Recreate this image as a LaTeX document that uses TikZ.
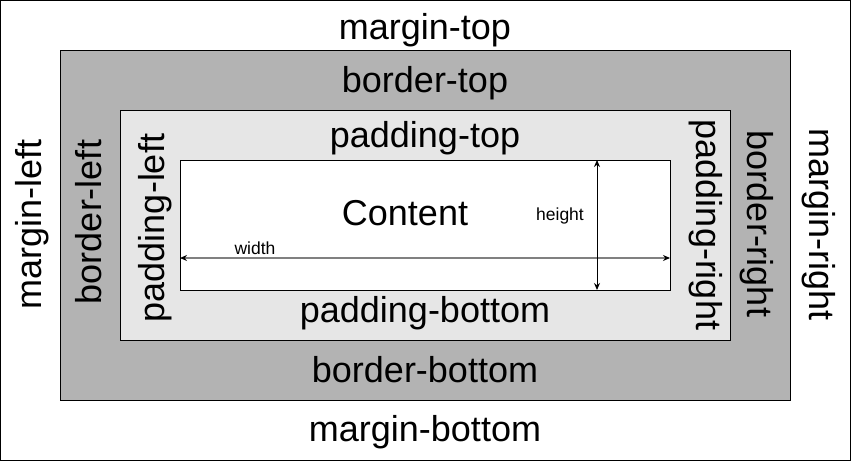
\documentclass[tikz,border=0pt]{standalone}
\usepackage{fontspec}
\setmainfont{Liberation Sans}
\usetikzlibrary{arrows.meta}

\definecolor{bordergray}{HTML}{B3B3B3}
\definecolor{paddinggray}{HTML}{E6E6E6}
\definecolor{widthgray}{HTML}{808080}

\tikzset{
  box/.style={draw=black, line width=1pt, inner sep=0pt, outer sep=0pt},
  biglabel/.style={font=\fontsize{36}{43}\selectfont, inner sep=0pt, text height=25.7pt, text depth=7.7pt},
  smalllabel/.style={font=\fontsize{17.5}{21}\selectfont, inner sep=0pt, text height=12.5pt, text depth=3.75pt},
  dimarrow/.style={{Stealth[length=7pt,width=6pt,black]}-{Stealth[length=7pt,width=6pt,black]}}
}

\begin{document}
\begin{tikzpicture}[x=1pt, y=-1pt]
  \useasboundingbox (0,0) rectangle (851,461);

  % nested boxes
  \node[box, fill=white, minimum width=850pt, minimum height=460pt] (margin) at (425.5,230.5) {};
  \node[box, fill=bordergray, minimum width=730pt, minimum height=350pt] (border) at (425,225) {};
  \node[box, fill=paddinggray, minimum width=610pt, minimum height=230pt] (padding) at (425,225) {};
  \node[box, fill=white, minimum width=490pt, minimum height=130pt] (content) at (425,225) {};

  % top and bottom labels
  \node[biglabel] (margintop) at (425,30) {margin-top};
  \node[biglabel] (bordertop) at (425,83) {border-top};
  \node[biglabel] (paddingtop) at (425,138) {padding-top};
  \node[biglabel] (contentlabel) at (405,216) {Content};
  \node[biglabel] (paddingbottom) at (425,313) {padding-bottom};
  \node[biglabel] (borderbottom) at (425,373) {border-bottom};
  \node[biglabel] (marginbottom) at (425,432) {margin-bottom};

  % side labels
  \node[biglabel, rotate=90] (marginleft) at (32,224) {margin-left};
  \node[biglabel, rotate=90] (borderleft) at (92,222) {border-left};
  \node[biglabel, rotate=90] (paddingleft) at (155.5,228) {padding-left};
  \node[biglabel, rotate=-90] (paddingright) at (705,225) {padding-right};
  \node[biglabel, rotate=-90] (borderright) at (756,224) {border-right};
  \node[biglabel, rotate=-90] (marginright) at (818,225) {margin-right};

  % dimensions
  \coordinate (wleft) at (180,258);
  \coordinate (wright) at (670,258);
  \coordinate (htop) at (597,160);
  \coordinate (hbottom) at (597,290);
  \draw[dimarrow, widthgray, line width=2pt] (wleft) -- (wright);
  \draw[dimarrow, black, line width=1pt] (htop) -- (hbottom);
  \node[smalllabel] (widthlabel) at (255,250.6) {width};
  \node[smalllabel] (heightlabel) at (560,216.6) {height};
\end{tikzpicture}
\end{document}
